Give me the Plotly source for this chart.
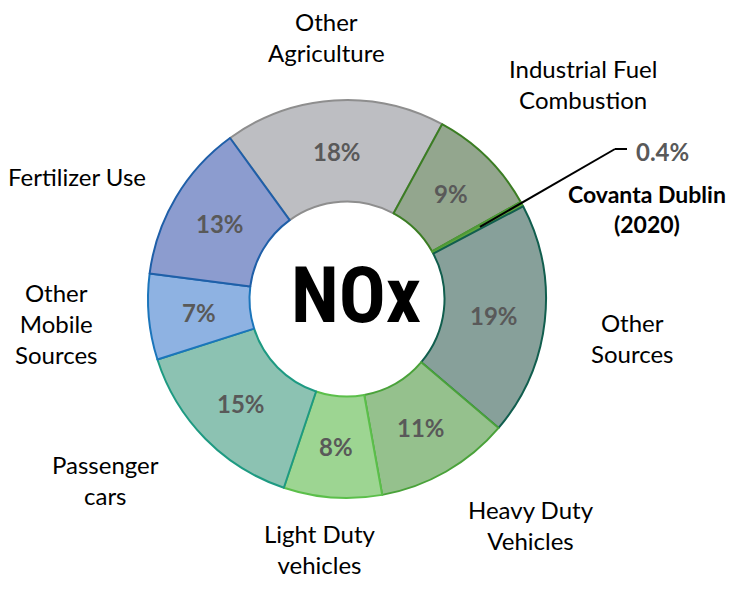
import math
import plotly.graph_objects as go

# ---- data ----
labels = ["Other Agriculture", "Industrial Fuel Combustion", "Covanta Dublin (2020)",
          "Other Sources", "Heavy Duty Vehicles", "Light Duty vehicles",
          "Passenger cars", "Other Mobile Sources", "Fertilizer Use"]
values = [18, 9, 0.4, 19, 11, 8, 15, 7, 13]
label_lines = ["Other<br>Agriculture", "Industrial Fuel<br>Combustion", "",
               "Other<br>Sources", "Heavy Duty<br>Vehicles", "Light Duty<br>vehicles",
               "Passenger<br>cars", "Other<br>Mobile<br>Sources", "Fertilizer Use"]
highlight = "Covanta Dublin (2020)"

# ---- styles ----
fill_colors = ["#BDBEC2", "#93A68E", "#5FA53F", "#87A09A", "#95C18D",
               "#9DD592", "#8CC2B2", "#8EB2E2", "#8C9CCF"]
line_colors = ["#8E8E8E", "#3B7D23", "#4E9A36", "#115E4E", "#4AA23A",
               "#5BBF4A", "#1E9A82", "#1B75BB", "#1F5FA8"]

# window size and page body margin
W, H = 740, 589
OFF = 8
FW, FH = W - 2 * OFF, H - 2 * OFF
CX, CY, R = 347, 299, 199   # screen pixels
HOLE = 0.49
ROT = -36


def px2paper(x, y):
    return (x - OFF) / FW, 1 - (y - OFF) / FH


x0, y1 = px2paper(CX - R, CY - R)
x1, y0 = px2paper(CX + R, CY + R)

fig = go.Figure(go.Pie(
    labels=labels, values=values, textinfo="none",
    sort=False, direction="clockwise", rotation=ROT, hole=HOLE,
    marker=dict(colors=fill_colors, line=dict(color=line_colors, width=2)),
    domain=dict(x=[x0, x1], y=[y0, y1]),
    showlegend=False, hoverinfo="label+value",
))

annotations = []
total = sum(values)

# percentage labels at the middle of each ring segment
r_mid = R * (1 + HOLE) / 2
cum = 0
for lab, v in zip(labels, values):
    mid = ROT + (cum + v / 2) / total * 360
    cum += v
    if lab == highlight:
        continue
    px = CX + r_mid * math.sin(math.radians(mid))
    py = CY - r_mid * math.cos(math.radians(mid))
    x, y = px2paper(px, py)
    annotations.append(dict(x=x, y=y, xref="paper", yref="paper", text=f"<b>{v:g}%</b>",
                            showarrow=False, xanchor="center", yanchor="middle",
                            font=dict(family="Lato", size=24, color="#595959")))

# outside category labels (text positions in screen pixels)
label_pos = [(326, 37), (583, 84), None, (632, 338), (531, 525), (320, 549),
             (106, 480), (57, 323), (77, 176)]
for txt, pos in zip(label_lines, label_pos):
    if pos is None:
        continue
    x, y = px2paper(*pos)
    annotations.append(dict(x=x, y=y, xref="paper", yref="paper", text=txt,
                            showarrow=False, xanchor="center", yanchor="middle",
                            font=dict(family="Lato", size=24, color="#000000")))

# highlight slice label with leader line
idx = labels.index(highlight)
start = ROT + sum(values[:idx]) / total * 360
mid = start + values[idx] / total * 360 / 2
r0 = R * 0.76
sx = CX + r0 * math.sin(math.radians(mid))
sy = CY - r0 * math.cos(math.radians(mid))
elbow = (615, 149)
end = (627, 149)
p0, p1, p2 = px2paper(sx, sy), px2paper(*elbow), px2paper(*end)
shapes = [
    dict(type="line", xref="paper", yref="paper", x0=p0[0], y0=p0[1], x1=p1[0], y1=p1[1],
         line=dict(color="#000000", width=2)),
    dict(type="line", xref="paper", yref="paper", x0=p1[0], y0=p1[1], x1=p2[0], y1=p2[1],
         line=dict(color="#000000", width=2)),
]
x, y = px2paper(634, 151)
annotations.append(dict(x=x, y=y, xref="paper", yref="paper", text=f"<b>{values[idx]:g}%</b>",
                        showarrow=False, xanchor="left", yanchor="middle",
                        font=dict(family="Lato", size=24, color="#595959")))
x, y = px2paper(647, 209)
annotations.append(dict(x=x, y=y, xref="paper", yref="paper",
                        text="<b>Covanta Dublin<br>(2020)</b>",
                        showarrow=False, xanchor="center", yanchor="middle",
                        font=dict(family="Lato", size=23, color="#000000")))

# center title
x, y = px2paper(CX + 9, CY - 4)
annotations.append(dict(x=x, y=y, xref="paper", yref="paper", text="<b>NOx</b>",
                        showarrow=False, xanchor="center", yanchor="middle",
                        font=dict(family="Roboto Condensed, Liberation Sans Narrow, DejaVu Sans Condensed, sans-serif",
                                  size=78, color="#000000")))

fig.update_layout(width=FW, height=FH, margin=dict(l=0, r=0, t=0, b=0),
                  paper_bgcolor="white", plot_bgcolor="white",
                  annotations=annotations, shapes=shapes)

fig.write_html("out.html")
